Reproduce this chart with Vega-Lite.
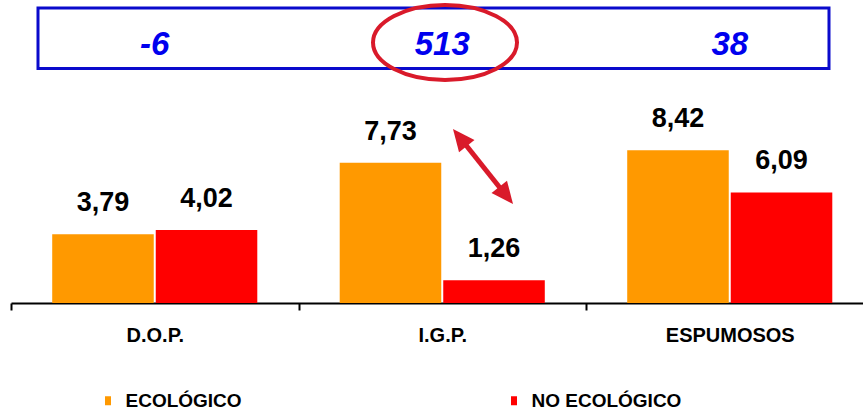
{
  "$schema": "https://vega.github.io/schema/vega-lite/v6.json",
  "autosize": "none",
  "width": 852,
  "height": 303,
  "padding": {"left": 11, "top": 0, "right": 0, "bottom": 107},
  "background": "white",
  "config": {
    "view": {"stroke": null},
    "font": "Liberation Sans",
    "locale": {"number": {"decimal": ",", "thousands": ".", "grouping": [3], "currency": ["", " €"], "minus": "-"}}
  },
  "datasets": {
    "ventas": [
      {"categoria": "D.O.P.", "tipo": "ECOLÓGICO", "valor": 3.79},
      {"categoria": "D.O.P.", "tipo": "NO ECOLÓGICO", "valor": 4.02},
      {"categoria": "I.G.P.", "tipo": "ECOLÓGICO", "valor": 7.73},
      {"categoria": "I.G.P.", "tipo": "NO ECOLÓGICO", "valor": 1.26},
      {"categoria": "ESPUMOSOS", "tipo": "ECOLÓGICO", "valor": 8.42},
      {"categoria": "ESPUMOSOS", "tipo": "NO ECOLÓGICO", "valor": 6.09}
    ],
    "diferencias": [
      {"categoria": "D.O.P.", "diferencia": -6},
      {"categoria": "I.G.P.", "diferencia": 513},
      {"categoria": "ESPUMOSOS", "diferencia": 38}
    ]
  },
  "layer": [
    {
      "layer": [
        {
          "data": {"name": "ventas"},
          "mark": {"type": "bar"},
          "encoding": {
            "x": {
              "field": "categoria", "type": "nominal",
              "scale": {"domain": ["D.O.P.", "I.G.P.", "ESPUMOSOS"], "range": [0, 862.5], "paddingInner": 0, "paddingOuter": 0},
              "axis": {
                "title": null, "labelAngle": 0, "domainColor": "black", "domainWidth": 2,
                "tickBand": "extent", "tickSize": 7, "tickWidth": 2, "tickColor": "black",
                "labelFont": "Liberation Sans", "labelFontSize": 20, "labelFontWeight": "bold",
                "labelColor": "black", "labelPadding": 15, "grid": false
              }
            },
            "xOffset": {
              "field": "tipo", "type": "nominal",
              "scale": {"domain": ["ECOLÓGICO", "NO ECOLÓGICO"], "paddingInner": 0.0193, "paddingOuter": 0.398}
            },
            "y": {"field": "valor", "type": "quantitative", "scale": {"domain": [0, 16.694], "nice": false, "zero": true}, "axis": null},
            "color": {
              "field": "tipo", "type": "nominal",
              "scale": {"domain": ["ECOLÓGICO", "NO ECOLÓGICO"], "range": ["#FF9900", "#FF0000"]},
              "legend": {
                "title": null, "orient": "none", "legendX": 87.5, "legendY": 391,
                "direction": "horizontal", "columns": 2, "columnPadding": 262,
                "symbolType": "M -0.67 -1 H 0.67 V 1 H -0.67 Z", "symbolSize": 81, "symbolStrokeWidth": 0,
                "labelFont": "Liberation Sans", "labelFontSize": 19, "labelFontWeight": "bold",
                "labelColor": "black", "labelOffset": 8, "labelLimit": 300
              }
            }
          }
        },
        {
          "data": {"name": "ventas"},
          "mark": {"type": "text", "dy": -23, "baseline": "alphabetic", "fontSize": 27, "fontWeight": "bold", "color": "black", "font": "Liberation Sans"},
          "encoding": {
            "x": {"field": "categoria", "type": "nominal", "scale": {"domain": ["D.O.P.", "I.G.P.", "ESPUMOSOS"], "range": [0, 862.5], "paddingInner": 0, "paddingOuter": 0}},
            "xOffset": {"field": "tipo", "type": "nominal", "scale": {"domain": ["ECOLÓGICO", "NO ECOLÓGICO"], "paddingInner": 0.0193, "paddingOuter": 0.398}},
            "y": {"field": "valor", "type": "quantitative", "scale": {"domain": [0, 16.694], "nice": false, "zero": true}},
            "text": {"field": "valor", "type": "quantitative", "format": ".2f"}
          }
        },
        {
          "data": {"name": "diferencias"},
          "mark": {"type": "text", "baseline": "alphabetic", "fontSize": 33, "fontWeight": "bold", "fontStyle": "italic", "color": "#0000EE", "font": "Liberation Sans"},
          "encoding": {
            "x": {"field": "categoria", "type": "nominal", "scale": {"domain": ["D.O.P.", "I.G.P.", "ESPUMOSOS"], "range": [0, 862.5], "paddingInner": 0, "paddingOuter": 0}},
            "y": {"datum": 13.664, "type": "quantitative", "scale": {"domain": [0, 16.694], "nice": false, "zero": true}},
            "text": {"field": "diferencia", "type": "quantitative", "format": "d"}
          }
        }
      ]
    },
    {
      "data": {"values": [{"x0": 0.0939, "x1": 2.8452, "y0": 16.253, "y1": 12.92}]},
      "mark": {"type": "rect", "filled": false, "stroke": "#0A0ACC", "strokeWidth": 3},
      "encoding": {
        "x": {"field": "x0", "type": "quantitative", "scale": {"domain": [0, 3], "range": [0, 862.5]}, "axis": null},
        "x2": {"field": "x1"},
        "y": {"field": "y0", "type": "quantitative", "scale": {"domain": [0, 16.694], "nice": false, "zero": true}},
        "y2": {"field": "y1"}
      }
    },
    {
      "data": {"values": [{"p": 1.5096, "v": 14.353}]},
      "mark": {"type": "point", "shape": "M -1 0 C -1 -0.288 -0.552 -0.521 0 -0.521 C 0.552 -0.521 1 -0.288 1 0 C 1 0.288 0.552 0.521 0 0.521 C -0.552 0.521 -1 0.288 -1 0 Z", "size": 20736, "filled": false, "color": "#D91A2A", "strokeWidth": 4, "opacity": 1},
      "encoding": {
        "x": {"field": "p", "type": "quantitative", "scale": {"domain": [0, 3], "range": [0, 862.5]}, "axis": null},
        "y": {"field": "v", "type": "quantitative", "scale": {"domain": [0, 16.694], "nice": false, "zero": true}}
      }
    },
    {
      "data": {"values": [{"p": 1.5593, "v": 9.157}, {"p": 1.7242, "v": 5.884}]},
      "mark": {"type": "line", "color": "#D91A2A", "strokeWidth": 5, "strokeCap": "butt"},
      "encoding": {
        "x": {"field": "p", "type": "quantitative", "scale": {"domain": [0, 3], "range": [0, 862.5]}, "axis": null},
        "y": {"field": "v", "type": "quantitative", "scale": {"domain": [0, 16.694], "nice": false, "zero": true}}
      }
    },
    {
      "data": {"values": [{"p": 1.5374, "v": 9.587}]},
      "mark": {"type": "point", "shape": "M 0 0 L 0.45 1 L -0.45 1 Z", "size": 1936, "filled": true, "color": "#D91A2A", "opacity": 1, "angle": 321.3},
      "encoding": {
        "x": {"field": "p", "type": "quantitative", "scale": {"domain": [0, 3], "range": [0, 862.5]}, "axis": null},
        "y": {"field": "v", "type": "quantitative", "scale": {"domain": [0, 16.694], "nice": false, "zero": true}}
      }
    },
    {
      "data": {"values": [{"p": 1.7461, "v": 5.455}]},
      "mark": {"type": "point", "shape": "M 0 0 L 0.45 1 L -0.45 1 Z", "size": 1936, "filled": true, "color": "#D91A2A", "opacity": 1, "angle": 141.3},
      "encoding": {
        "x": {"field": "p", "type": "quantitative", "scale": {"domain": [0, 3], "range": [0, 862.5]}, "axis": null},
        "y": {"field": "v", "type": "quantitative", "scale": {"domain": [0, 16.694], "nice": false, "zero": true}}
      }
    }
  ],
  "resolve": {"scale": {"x": "independent"}}
}
